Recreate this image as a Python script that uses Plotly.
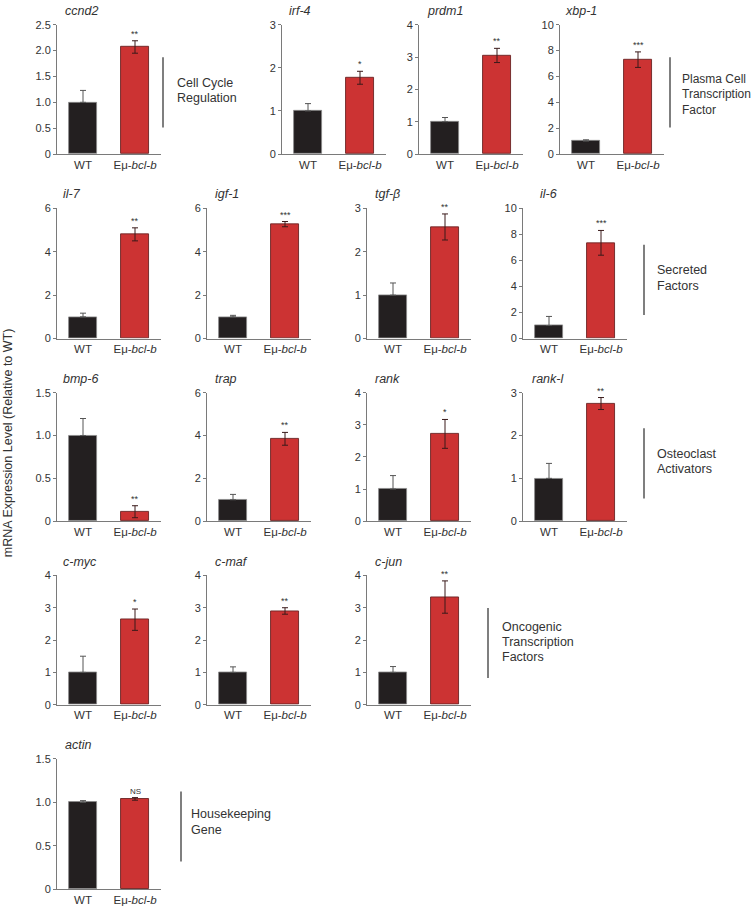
import plotly.graph_objects as go

# ---------------- data ----------------
genes = ["ccnd2", "irf-4", "prdm1", "xbp-1",
         "il-7", "igf-1", "tgf-β", "il-6",
         "bmp-6", "trap", "rank", "rank-l",
         "c-myc", "c-maf", "c-jun",
         "actin"]
groups = ["WT", "Eμ-bcl-b"]
group_labels = ["WT", "Eμ-<i>bcl-b</i>"]
wt_mean = [1.0, 1.0, 1.0, 1.0,
           1.0, 1.0, 1.0, 1.0,
           1.0, 1.0, 1.0, 1.0,
           1.0, 1.0, 1.0,
           1.0]
wt_err = [0.23, 0.17, 0.13, 0.10,
          0.17, 0.07, 0.28, 0.70,
          0.20, 0.25, 0.42, 0.35,
          0.50, 0.17, 0.18,
          0.02]
tg_mean = [2.07, 1.77, 3.05, 7.30,
           4.80, 5.27, 2.57, 7.35,
           0.11, 3.85, 2.72, 2.75,
           2.63, 2.90, 3.33,
           1.04]
tg_err = [0.12, 0.15, 0.22, 0.60,
          0.30, 0.12, 0.30, 0.95,
          0.07, 0.30, 0.45, 0.14,
          0.33, 0.10, 0.50,
          0.015]
significance = ["**", "*", "**", "***",
                "**", "***", "**", "***",
                "**", "**", "*", "**",
                "*", "**", "**",
                "NS"]
y_max = [2.5, 3, 4, 10,
         6, 6, 3, 10,
         1.5, 6, 4, 3,
         4, 4, 4,
         1.5]
y_step = [0.5, 1, 1, 2,
          2, 2, 1, 2,
          0.5, 2, 1, 1,
          1, 1, 1,
          0.5]

brackets = [
    ["Cell Cycle", "Regulation"],
    ["Plasma Cell", "Transcription", "Factor"],
    ["Secreted", "Factors"],
    ["Osteoclast", "Activators"],
    ["Oncogenic", "Transcription", "Factors"],
    ["Housekeeping", "Gene"],
]
y_title = "mRNA Expression Level (Relative to WT)"

# ---------------- layout (pixels) ----------------
W, H = 754, 912
panel_x0 = [57, 282, 419, 560,
            57, 207, 367, 523,
            57, 207, 367, 523,
            57, 207, 367,
            57]
panel_row = [0, 0, 0, 0, 1, 1, 1, 1, 2, 2, 2, 2, 3, 3, 3, 4]
row_top = [19, 205, 392, 577, 763]
row_zero = [150, 337, 522, 708, 895]
title_dx = [6, 5, 6, 3, 4, 6, 6, 15, 4, 6, 6, 7, 4, 6, 6, 6]
panel_w = 104

# bracket: line x, y top, y bottom, text x, text first line y, font size
bracket_pos = [
    (163, 52, 123, 175, 78, 12.5),
    (670, 52, 123, 680, 74, 12),
    (644, 242, 313, 655, 268, 12.5),
    (644, 428, 499, 655, 454, 12.5),
    (488, 610, 681, 500, 629, 12.5),
    (181, 796, 867, 189, 819, 12.5),
]
line_gap = 15.5

FONT = "Arial, Liberation Sans, Helvetica, sans-serif"
BLACK = "#231f20"
RED = "#cc3333"
AXIS = "#7a7a7a"
TXT = "#333333"


def px(x):
    return x / W


def py(y):
    return 1 - y / H


fig = go.Figure()
layout = {}
annotations = []
shapes = []

for i, g in enumerate(genes):
    n = i + 1
    xs = "x" if n == 1 else f"x{n}"
    ys = "y" if n == 1 else f"y{n}"
    xk = "xaxis" if n == 1 else f"xaxis{n}"
    yk = "yaxis" if n == 1 else f"yaxis{n}"
    r = panel_row[i]
    x0 = panel_x0[i]

    fig.add_trace(go.Bar(
        x=[groups[0]], y=[wt_mean[i]],
        error_y=dict(type="data", symmetric=False,
                     array=[wt_err[i]], arrayminus=[0],
                     color="#555555", thickness=1, width=3),
        marker=dict(color=BLACK, line=dict(color="#8a8a8a", width=0.8)),
        width=0.52, xaxis=xs, yaxis=ys, showlegend=False))
    fig.add_trace(go.Bar(
        x=[groups[1]], y=[tg_mean[i]],
        error_y=dict(type="data", array=[tg_err[i]], color="#3a1a1a",
                     thickness=1, width=3),
        marker=dict(color=RED, line=dict(color="#6b2424", width=0.9)),
        width=0.52, xaxis=xs, yaxis=ys, showlegend=False))

    step = y_step[i]
    nt = int(round(y_max[i] / step))
    tv = [k * step for k in range(nt + 1)]
    if step < 1:
        tt = ["0" if v == 0 else f"{v:.1f}" for v in tv]
    else:
        tt = [str(int(v)) for v in tv]

    layout[xk] = dict(
        domain=[px(x0), px(x0 + panel_w)], anchor=ys,
        type="category", range=[-0.5, 1.5],
        tickvals=groups, ticktext=group_labels,
        showline=True, linecolor=AXIS, linewidth=1,
        ticks="", showgrid=False, zeroline=False,
        tickfont=dict(size=11.5, color=TXT, family=FONT),
    )
    layout[yk] = dict(
        domain=[py(row_zero[r]), py(row_top[r])], anchor=xs,
        range=[0, y_max[i]], tickvals=tv, ticktext=tt,
        showline=True, linecolor=AXIS, linewidth=1,
        ticks="outside", ticklen=3, tickcolor=AXIS,
        showgrid=False, zeroline=False,
        tickfont=dict(size=11, color=TXT, family=FONT),
    )
    # gene title
    annotations.append(dict(
        text=f"<i>{g}</i>", xref="paper", yref="paper",
        x=px(x0 + title_dx[i]), y=py(row_top[r] - 14),
        xanchor="left", yanchor="middle", showarrow=False,
        font=dict(size=12.5, color=TXT, family=FONT)))
    # significance mark
    annotations.append(dict(
        text=significance[i], xref=xs, yref=ys,
        x=groups[1], y=tg_mean[i] + tg_err[i],
        xanchor="center", yanchor="bottom", showarrow=False,
        yshift=0,
        font=dict(size=8 if significance[i] == "NS" else 9,
                  color=TXT, family=FONT)))

# brackets
for lines, (lx, ly0, ly1, tx, ty, fs) in zip(brackets, bracket_pos):
    shapes.append(dict(type="line", xref="paper", yref="paper",
                       x0=px(lx), x1=px(lx), y0=py(ly0), y1=py(ly1),
                       line=dict(color="#555555", width=1.5)))
    for k, t in enumerate(lines):
        annotations.append(dict(
            text=t, xref="paper", yref="paper",
            x=px(tx), y=py(ty + k * line_gap),
            xanchor="left", yanchor="middle", showarrow=False,
            font=dict(size=fs, color=TXT, family=FONT)))

# global y title
annotations.append(dict(
    text=y_title, xref="paper", yref="paper",
    x=px(8), y=py(443), textangle=-90,
    xanchor="center", yanchor="middle", showarrow=False,
    font=dict(size=12.5, color=TXT, family=FONT)))

fig.update_layout(
    width=W, height=H,
    margin=dict(l=0, r=0, t=0, b=0),
    paper_bgcolor="white", plot_bgcolor="white",
    font=dict(family=FONT, color=TXT),
    annotations=annotations, shapes=shapes,
    bargap=0,
    **layout,
)

fig.write_html("out.html",
               config={"displayModeBar": False},
               post_script="document.body.style.margin='0';"
                           "document.body.style.overflow='hidden';")
